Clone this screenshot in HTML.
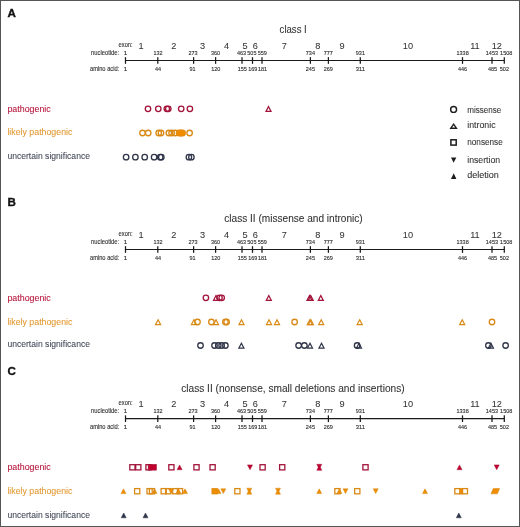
<!DOCTYPE html>
<html><head><meta charset="utf-8"><title>variants</title>
<style>
html,body{margin:0;padding:0;background:#fff;width:520px;height:527px;overflow:hidden;}
svg{display:block;font-family:"Liberation Sans", sans-serif;will-change:transform;}
</style></head><body>
<svg width="520" height="527" viewBox="0 0 520 527">
<rect x="0" y="0" width="520" height="527" fill="#ffffff"/>
<g font-family="'Liberation Sans', sans-serif">
<g>
<text x="7.6" y="16.9" font-size="11.6" fill="#111" text-anchor="start" font-weight="bold" stroke="#111" stroke-width="0.35">A</text>
<text x="279.6" y="32.5" font-size="10.3" fill="#333333" text-anchor="start" stroke="#333333" stroke-width="0.08" textLength="27.2" lengthAdjust="spacingAndGlyphs">class I</text>
<text x="132.6" y="46.9" font-size="6.5" fill="#2e2e2e" text-anchor="end" stroke="#2e2e2e" stroke-width="0.1" textLength="14.0" lengthAdjust="spacingAndGlyphs">exon:</text>
<text x="141.0" y="48.7" font-size="9.2" fill="#333333" text-anchor="middle" stroke="#333333" stroke-width="0.05">1</text>
<text x="173.8" y="48.7" font-size="9.2" fill="#333333" text-anchor="middle" stroke="#333333" stroke-width="0.05">2</text>
<text x="202.6" y="48.7" font-size="9.2" fill="#333333" text-anchor="middle" stroke="#333333" stroke-width="0.05">3</text>
<text x="226.6" y="48.7" font-size="9.2" fill="#333333" text-anchor="middle" stroke="#333333" stroke-width="0.05">4</text>
<text x="245.0" y="48.7" font-size="9.2" fill="#333333" text-anchor="middle" stroke="#333333" stroke-width="0.05">5</text>
<text x="255.4" y="48.7" font-size="9.2" fill="#333333" text-anchor="middle" stroke="#333333" stroke-width="0.05">6</text>
<text x="284.3" y="48.7" font-size="9.2" fill="#333333" text-anchor="middle" stroke="#333333" stroke-width="0.05">7</text>
<text x="317.7" y="48.7" font-size="9.2" fill="#333333" text-anchor="middle" stroke="#333333" stroke-width="0.05">8</text>
<text x="342.0" y="48.7" font-size="9.2" fill="#333333" text-anchor="middle" stroke="#333333" stroke-width="0.05">9</text>
<text x="407.9" y="48.7" font-size="9.2" fill="#333333" text-anchor="middle" stroke="#333333" stroke-width="0.05">10</text>
<text x="474.9" y="48.7" font-size="9.2" fill="#333333" text-anchor="middle" stroke="#333333" stroke-width="0.05">11</text>
<text x="496.8" y="48.7" font-size="9.2" fill="#333333" text-anchor="middle" stroke="#333333" stroke-width="0.05">12</text>
<text x="119.2" y="55.1" font-size="6.4" fill="#2e2e2e" text-anchor="end" stroke="#2e2e2e" stroke-width="0.1" textLength="28.2" lengthAdjust="spacingAndGlyphs">nucleotide:</text>
<text x="119.2" y="70.6" font-size="6.4" fill="#2e2e2e" text-anchor="end" stroke="#2e2e2e" stroke-width="0.1" textLength="29.2" lengthAdjust="spacingAndGlyphs">amino acid:</text>
<text x="125.5" y="55.2" font-size="6.1" fill="#2e2e2e" text-anchor="middle" stroke="#2e2e2e" stroke-width="0.12">1</text>
<text x="125.5" y="70.6" font-size="6.1" fill="#2e2e2e" text-anchor="middle" stroke="#2e2e2e" stroke-width="0.12">1</text>
<text x="158.0" y="55.2" font-size="6.1" fill="#2e2e2e" text-anchor="middle" stroke="#2e2e2e" stroke-width="0.12" textLength="9.15" lengthAdjust="spacingAndGlyphs">132</text>
<text x="158.0" y="70.6" font-size="6.1" fill="#2e2e2e" text-anchor="middle" stroke="#2e2e2e" stroke-width="0.12" textLength="6.1" lengthAdjust="spacingAndGlyphs">44</text>
<text x="193.0" y="55.2" font-size="6.1" fill="#2e2e2e" text-anchor="middle" stroke="#2e2e2e" stroke-width="0.12" textLength="9.15" lengthAdjust="spacingAndGlyphs">273</text>
<text x="192.6" y="70.6" font-size="6.1" fill="#2e2e2e" text-anchor="middle" stroke="#2e2e2e" stroke-width="0.12" textLength="6.1" lengthAdjust="spacingAndGlyphs">91</text>
<text x="215.6" y="55.2" font-size="6.1" fill="#2e2e2e" text-anchor="middle" stroke="#2e2e2e" stroke-width="0.12" textLength="9.15" lengthAdjust="spacingAndGlyphs">360</text>
<text x="215.7" y="70.6" font-size="6.1" fill="#2e2e2e" text-anchor="middle" stroke="#2e2e2e" stroke-width="0.12" textLength="9.15" lengthAdjust="spacingAndGlyphs">120</text>
<text x="241.5" y="55.2" font-size="6.1" fill="#2e2e2e" text-anchor="middle" stroke="#2e2e2e" stroke-width="0.12" textLength="9.15" lengthAdjust="spacingAndGlyphs">463</text>
<text x="242.3" y="70.6" font-size="6.1" fill="#2e2e2e" text-anchor="middle" stroke="#2e2e2e" stroke-width="0.12" textLength="9.15" lengthAdjust="spacingAndGlyphs">155</text>
<text x="251.9" y="55.2" font-size="6.1" fill="#2e2e2e" text-anchor="middle" stroke="#2e2e2e" stroke-width="0.12" textLength="9.15" lengthAdjust="spacingAndGlyphs">505</text>
<text x="252.8" y="70.6" font-size="6.1" fill="#2e2e2e" text-anchor="middle" stroke="#2e2e2e" stroke-width="0.12" textLength="9.15" lengthAdjust="spacingAndGlyphs">169</text>
<text x="262.2" y="55.2" font-size="6.1" fill="#2e2e2e" text-anchor="middle" stroke="#2e2e2e" stroke-width="0.12" textLength="9.15" lengthAdjust="spacingAndGlyphs">559</text>
<text x="262.5" y="70.6" font-size="6.1" fill="#2e2e2e" text-anchor="middle" stroke="#2e2e2e" stroke-width="0.12" textLength="9.15" lengthAdjust="spacingAndGlyphs">181</text>
<text x="310.4" y="55.2" font-size="6.1" fill="#2e2e2e" text-anchor="middle" stroke="#2e2e2e" stroke-width="0.12" textLength="9.15" lengthAdjust="spacingAndGlyphs">734</text>
<text x="310.4" y="70.6" font-size="6.1" fill="#2e2e2e" text-anchor="middle" stroke="#2e2e2e" stroke-width="0.12" textLength="9.15" lengthAdjust="spacingAndGlyphs">245</text>
<text x="328.3" y="55.2" font-size="6.1" fill="#2e2e2e" text-anchor="middle" stroke="#2e2e2e" stroke-width="0.12" textLength="9.15" lengthAdjust="spacingAndGlyphs">777</text>
<text x="328.3" y="70.6" font-size="6.1" fill="#2e2e2e" text-anchor="middle" stroke="#2e2e2e" stroke-width="0.12" textLength="9.15" lengthAdjust="spacingAndGlyphs">269</text>
<text x="360.4" y="55.2" font-size="6.1" fill="#2e2e2e" text-anchor="middle" stroke="#2e2e2e" stroke-width="0.12" textLength="9.15" lengthAdjust="spacingAndGlyphs">931</text>
<text x="360.4" y="70.6" font-size="6.1" fill="#2e2e2e" text-anchor="middle" stroke="#2e2e2e" stroke-width="0.12" textLength="9.15" lengthAdjust="spacingAndGlyphs">311</text>
<text x="462.6" y="55.2" font-size="6.1" fill="#2e2e2e" text-anchor="middle" stroke="#2e2e2e" stroke-width="0.12" textLength="12.2" lengthAdjust="spacingAndGlyphs">1338</text>
<text x="462.5" y="70.6" font-size="6.1" fill="#2e2e2e" text-anchor="middle" stroke="#2e2e2e" stroke-width="0.12" textLength="9.15" lengthAdjust="spacingAndGlyphs">446</text>
<text x="491.9" y="55.2" font-size="6.1" fill="#2e2e2e" text-anchor="middle" stroke="#2e2e2e" stroke-width="0.12" textLength="12.2" lengthAdjust="spacingAndGlyphs">1453</text>
<text x="492.5" y="70.6" font-size="6.1" fill="#2e2e2e" text-anchor="middle" stroke="#2e2e2e" stroke-width="0.12" textLength="9.15" lengthAdjust="spacingAndGlyphs">485</text>
<text x="506.2" y="55.2" font-size="6.1" fill="#2e2e2e" text-anchor="middle" stroke="#2e2e2e" stroke-width="0.12" textLength="12.2" lengthAdjust="spacingAndGlyphs">1508</text>
<text x="504.4" y="70.6" font-size="6.1" fill="#2e2e2e" text-anchor="middle" stroke="#2e2e2e" stroke-width="0.12" textLength="9.15" lengthAdjust="spacingAndGlyphs">502</text>
<line x1="125.5" y1="60.45" x2="504.3" y2="60.45" stroke="#1a1a1a" stroke-width="1.1"/>
<line x1="125.5" y1="57.150000000000006" x2="125.5" y2="63.85" stroke="#1a1a1a" stroke-width="1.25"/>
<line x1="157.8" y1="57.150000000000006" x2="157.8" y2="63.85" stroke="#1a1a1a" stroke-width="1.25"/>
<line x1="193.6" y1="57.150000000000006" x2="193.6" y2="63.85" stroke="#1a1a1a" stroke-width="1.25"/>
<line x1="215.6" y1="57.150000000000006" x2="215.6" y2="63.85" stroke="#1a1a1a" stroke-width="1.25"/>
<line x1="242.0" y1="57.150000000000006" x2="242.0" y2="63.85" stroke="#1a1a1a" stroke-width="1.25"/>
<line x1="252.5" y1="57.150000000000006" x2="252.5" y2="63.85" stroke="#1a1a1a" stroke-width="1.25"/>
<line x1="262.0" y1="57.150000000000006" x2="262.0" y2="63.85" stroke="#1a1a1a" stroke-width="1.25"/>
<line x1="310.4" y1="57.150000000000006" x2="310.4" y2="63.85" stroke="#1a1a1a" stroke-width="1.25"/>
<line x1="328.4" y1="57.150000000000006" x2="328.4" y2="63.85" stroke="#1a1a1a" stroke-width="1.25"/>
<line x1="360.3" y1="57.150000000000006" x2="360.3" y2="63.85" stroke="#1a1a1a" stroke-width="1.25"/>
<line x1="462.5" y1="57.150000000000006" x2="462.5" y2="63.85" stroke="#1a1a1a" stroke-width="1.25"/>
<line x1="492.0" y1="57.150000000000006" x2="492.0" y2="63.85" stroke="#1a1a1a" stroke-width="1.25"/>
<line x1="504.3" y1="57.150000000000006" x2="504.3" y2="63.85" stroke="#1a1a1a" stroke-width="1.25"/>
<text x="7.4" y="111.8" font-size="8.6" fill="#b8173c" text-anchor="start" stroke="#b8173c" stroke-width="0.08" textLength="43.4" lengthAdjust="spacingAndGlyphs">pathogenic</text>
<text x="7.4" y="134.9" font-size="8.6" fill="#e39a34" text-anchor="start" stroke="#e39a34" stroke-width="0.08" textLength="65.0" lengthAdjust="spacingAndGlyphs">likely pathogenic</text>
<text x="7.4" y="158.8" font-size="8.6" fill="#434959" text-anchor="start" stroke="#434959" stroke-width="0.08" textLength="82.6" lengthAdjust="spacingAndGlyphs">uncertain significance</text>
<circle cx="148.0" cy="108.8" r="2.75" fill="none" stroke="#a3143a" stroke-width="1.3"/>
<circle cx="158.3" cy="108.8" r="2.75" fill="none" stroke="#a3143a" stroke-width="1.3"/>
<circle cx="166.8" cy="108.8" r="2.75" fill="none" stroke="#a3143a" stroke-width="1.3"/>
<circle cx="168.3" cy="108.8" r="2.75" fill="none" stroke="#a3143a" stroke-width="1.3"/>
<circle cx="181.2" cy="108.8" r="2.75" fill="none" stroke="#a3143a" stroke-width="1.3"/>
<circle cx="189.9" cy="108.8" r="2.75" fill="none" stroke="#a3143a" stroke-width="1.3"/>
<polygon points="268.50,106.55 271.00,111.35 266.00,111.35" fill="none" stroke="#a3143a" stroke-width="1.25" stroke-linejoin="miter"/>
<circle cx="142.5" cy="133.0" r="2.75" fill="none" stroke="#d98a16" stroke-width="1.3"/>
<circle cx="148.2" cy="133.0" r="2.75" fill="none" stroke="#d98a16" stroke-width="1.3"/>
<circle cx="158.7" cy="133.0" r="2.75" fill="none" stroke="#d98a16" stroke-width="1.3"/>
<circle cx="161.0" cy="133.0" r="2.75" fill="none" stroke="#d98a16" stroke-width="1.3"/>
<circle cx="168.8" cy="133.0" r="2.75" fill="none" stroke="#d98a16" stroke-width="1.3"/>
<circle cx="171.6" cy="133.0" r="2.75" fill="none" stroke="#d98a16" stroke-width="1.3"/>
<circle cx="175.2" cy="133.0" r="2.75" fill="none" stroke="#d98a16" stroke-width="1.3"/>
<circle cx="189.6" cy="133.0" r="2.75" fill="none" stroke="#d98a16" stroke-width="1.3"/>
<rect x="176.0" y="129.7" width="9.8" height="6.6" rx="3.3" fill="#ef8c00" stroke="#d98a16" stroke-width="0.6"/>
<circle cx="126.1" cy="157.2" r="2.75" fill="none" stroke="#2f3548" stroke-width="1.3"/>
<circle cx="135.4" cy="157.2" r="2.75" fill="none" stroke="#2f3548" stroke-width="1.3"/>
<circle cx="144.7" cy="157.2" r="2.75" fill="none" stroke="#2f3548" stroke-width="1.3"/>
<circle cx="154.1" cy="157.2" r="2.75" fill="none" stroke="#2f3548" stroke-width="1.3"/>
<circle cx="160.2" cy="157.2" r="2.75" fill="none" stroke="#2f3548" stroke-width="1.3"/>
<circle cx="161.3" cy="157.2" r="2.75" fill="none" stroke="#2f3548" stroke-width="1.3"/>
<circle cx="188.9" cy="157.2" r="2.75" fill="none" stroke="#2f3548" stroke-width="1.3"/>
<circle cx="191.4" cy="157.2" r="2.75" fill="none" stroke="#2f3548" stroke-width="1.3"/>
<circle cx="453.6" cy="109.4" r="2.95" fill="none" stroke="#1c1c1c" stroke-width="1.45"/>
<polygon points="453.6,124.2 456.4,128.2 450.8,128.2" fill="none" stroke="#1c1c1c" stroke-width="1.4"/>
<rect x="450.9" y="139.8" width="5.3" height="5.3" fill="none" stroke="#1c1c1c" stroke-width="1.5"/>
<polygon points="451.0,157.4 456.3,157.4 453.65,162.8" fill="#1c1c1c"/>
<polygon points="453.7,173.2 456.4,178.9 451.0,178.9" fill="#1c1c1c"/>
<text x="467.2" y="112.5" font-size="8.6" fill="#333333" text-anchor="start" stroke="#333333" stroke-width="0.08" textLength="34.0" lengthAdjust="spacingAndGlyphs">missense</text>
<text x="467.2" y="127.7" font-size="8.6" fill="#333333" text-anchor="start" stroke="#333333" stroke-width="0.08" textLength="28.4" lengthAdjust="spacingAndGlyphs">intronic</text>
<text x="467.2" y="144.5" font-size="8.6" fill="#333333" text-anchor="start" stroke="#333333" stroke-width="0.08" textLength="35.6" lengthAdjust="spacingAndGlyphs">nonsense</text>
<text x="467.2" y="162.5" font-size="8.6" fill="#333333" text-anchor="start" stroke="#333333" stroke-width="0.08" textLength="33.0" lengthAdjust="spacingAndGlyphs">insertion</text>
<text x="467.2" y="177.6" font-size="8.6" fill="#333333" text-anchor="start" stroke="#333333" stroke-width="0.08" textLength="31.6" lengthAdjust="spacingAndGlyphs">deletion</text>
</g>
<g transform="translate(0,189)">
<text x="7.6" y="16.9" font-size="11.6" fill="#111" text-anchor="start" font-weight="bold" stroke="#111" stroke-width="0.35">B</text>
<text x="224.3" y="33.2" font-size="10.3" fill="#333333" text-anchor="start" stroke="#333333" stroke-width="0.08" textLength="138.4" lengthAdjust="spacingAndGlyphs">class II (missense and intronic)</text>
<text x="132.6" y="46.9" font-size="6.5" fill="#2e2e2e" text-anchor="end" stroke="#2e2e2e" stroke-width="0.1" textLength="14.0" lengthAdjust="spacingAndGlyphs">exon:</text>
<text x="141.0" y="48.7" font-size="9.2" fill="#333333" text-anchor="middle" stroke="#333333" stroke-width="0.05">1</text>
<text x="173.8" y="48.7" font-size="9.2" fill="#333333" text-anchor="middle" stroke="#333333" stroke-width="0.05">2</text>
<text x="202.6" y="48.7" font-size="9.2" fill="#333333" text-anchor="middle" stroke="#333333" stroke-width="0.05">3</text>
<text x="226.6" y="48.7" font-size="9.2" fill="#333333" text-anchor="middle" stroke="#333333" stroke-width="0.05">4</text>
<text x="245.0" y="48.7" font-size="9.2" fill="#333333" text-anchor="middle" stroke="#333333" stroke-width="0.05">5</text>
<text x="255.4" y="48.7" font-size="9.2" fill="#333333" text-anchor="middle" stroke="#333333" stroke-width="0.05">6</text>
<text x="284.3" y="48.7" font-size="9.2" fill="#333333" text-anchor="middle" stroke="#333333" stroke-width="0.05">7</text>
<text x="317.7" y="48.7" font-size="9.2" fill="#333333" text-anchor="middle" stroke="#333333" stroke-width="0.05">8</text>
<text x="342.0" y="48.7" font-size="9.2" fill="#333333" text-anchor="middle" stroke="#333333" stroke-width="0.05">9</text>
<text x="407.9" y="48.7" font-size="9.2" fill="#333333" text-anchor="middle" stroke="#333333" stroke-width="0.05">10</text>
<text x="474.9" y="48.7" font-size="9.2" fill="#333333" text-anchor="middle" stroke="#333333" stroke-width="0.05">11</text>
<text x="496.8" y="48.7" font-size="9.2" fill="#333333" text-anchor="middle" stroke="#333333" stroke-width="0.05">12</text>
<text x="119.2" y="55.1" font-size="6.4" fill="#2e2e2e" text-anchor="end" stroke="#2e2e2e" stroke-width="0.1" textLength="28.2" lengthAdjust="spacingAndGlyphs">nucleotide:</text>
<text x="119.2" y="70.6" font-size="6.4" fill="#2e2e2e" text-anchor="end" stroke="#2e2e2e" stroke-width="0.1" textLength="29.2" lengthAdjust="spacingAndGlyphs">amino acid:</text>
<text x="125.5" y="55.2" font-size="6.1" fill="#2e2e2e" text-anchor="middle" stroke="#2e2e2e" stroke-width="0.12">1</text>
<text x="125.5" y="70.6" font-size="6.1" fill="#2e2e2e" text-anchor="middle" stroke="#2e2e2e" stroke-width="0.12">1</text>
<text x="158.0" y="55.2" font-size="6.1" fill="#2e2e2e" text-anchor="middle" stroke="#2e2e2e" stroke-width="0.12" textLength="9.15" lengthAdjust="spacingAndGlyphs">132</text>
<text x="158.0" y="70.6" font-size="6.1" fill="#2e2e2e" text-anchor="middle" stroke="#2e2e2e" stroke-width="0.12" textLength="6.1" lengthAdjust="spacingAndGlyphs">44</text>
<text x="193.0" y="55.2" font-size="6.1" fill="#2e2e2e" text-anchor="middle" stroke="#2e2e2e" stroke-width="0.12" textLength="9.15" lengthAdjust="spacingAndGlyphs">273</text>
<text x="192.6" y="70.6" font-size="6.1" fill="#2e2e2e" text-anchor="middle" stroke="#2e2e2e" stroke-width="0.12" textLength="6.1" lengthAdjust="spacingAndGlyphs">91</text>
<text x="215.6" y="55.2" font-size="6.1" fill="#2e2e2e" text-anchor="middle" stroke="#2e2e2e" stroke-width="0.12" textLength="9.15" lengthAdjust="spacingAndGlyphs">360</text>
<text x="215.7" y="70.6" font-size="6.1" fill="#2e2e2e" text-anchor="middle" stroke="#2e2e2e" stroke-width="0.12" textLength="9.15" lengthAdjust="spacingAndGlyphs">120</text>
<text x="241.5" y="55.2" font-size="6.1" fill="#2e2e2e" text-anchor="middle" stroke="#2e2e2e" stroke-width="0.12" textLength="9.15" lengthAdjust="spacingAndGlyphs">463</text>
<text x="242.3" y="70.6" font-size="6.1" fill="#2e2e2e" text-anchor="middle" stroke="#2e2e2e" stroke-width="0.12" textLength="9.15" lengthAdjust="spacingAndGlyphs">155</text>
<text x="251.9" y="55.2" font-size="6.1" fill="#2e2e2e" text-anchor="middle" stroke="#2e2e2e" stroke-width="0.12" textLength="9.15" lengthAdjust="spacingAndGlyphs">505</text>
<text x="252.8" y="70.6" font-size="6.1" fill="#2e2e2e" text-anchor="middle" stroke="#2e2e2e" stroke-width="0.12" textLength="9.15" lengthAdjust="spacingAndGlyphs">169</text>
<text x="262.2" y="55.2" font-size="6.1" fill="#2e2e2e" text-anchor="middle" stroke="#2e2e2e" stroke-width="0.12" textLength="9.15" lengthAdjust="spacingAndGlyphs">559</text>
<text x="262.5" y="70.6" font-size="6.1" fill="#2e2e2e" text-anchor="middle" stroke="#2e2e2e" stroke-width="0.12" textLength="9.15" lengthAdjust="spacingAndGlyphs">181</text>
<text x="310.4" y="55.2" font-size="6.1" fill="#2e2e2e" text-anchor="middle" stroke="#2e2e2e" stroke-width="0.12" textLength="9.15" lengthAdjust="spacingAndGlyphs">734</text>
<text x="310.4" y="70.6" font-size="6.1" fill="#2e2e2e" text-anchor="middle" stroke="#2e2e2e" stroke-width="0.12" textLength="9.15" lengthAdjust="spacingAndGlyphs">245</text>
<text x="328.3" y="55.2" font-size="6.1" fill="#2e2e2e" text-anchor="middle" stroke="#2e2e2e" stroke-width="0.12" textLength="9.15" lengthAdjust="spacingAndGlyphs">777</text>
<text x="328.3" y="70.6" font-size="6.1" fill="#2e2e2e" text-anchor="middle" stroke="#2e2e2e" stroke-width="0.12" textLength="9.15" lengthAdjust="spacingAndGlyphs">269</text>
<text x="360.4" y="55.2" font-size="6.1" fill="#2e2e2e" text-anchor="middle" stroke="#2e2e2e" stroke-width="0.12" textLength="9.15" lengthAdjust="spacingAndGlyphs">931</text>
<text x="360.4" y="70.6" font-size="6.1" fill="#2e2e2e" text-anchor="middle" stroke="#2e2e2e" stroke-width="0.12" textLength="9.15" lengthAdjust="spacingAndGlyphs">311</text>
<text x="462.6" y="55.2" font-size="6.1" fill="#2e2e2e" text-anchor="middle" stroke="#2e2e2e" stroke-width="0.12" textLength="12.2" lengthAdjust="spacingAndGlyphs">1338</text>
<text x="462.5" y="70.6" font-size="6.1" fill="#2e2e2e" text-anchor="middle" stroke="#2e2e2e" stroke-width="0.12" textLength="9.15" lengthAdjust="spacingAndGlyphs">446</text>
<text x="491.9" y="55.2" font-size="6.1" fill="#2e2e2e" text-anchor="middle" stroke="#2e2e2e" stroke-width="0.12" textLength="12.2" lengthAdjust="spacingAndGlyphs">1453</text>
<text x="492.5" y="70.6" font-size="6.1" fill="#2e2e2e" text-anchor="middle" stroke="#2e2e2e" stroke-width="0.12" textLength="9.15" lengthAdjust="spacingAndGlyphs">485</text>
<text x="506.2" y="55.2" font-size="6.1" fill="#2e2e2e" text-anchor="middle" stroke="#2e2e2e" stroke-width="0.12" textLength="12.2" lengthAdjust="spacingAndGlyphs">1508</text>
<text x="504.4" y="70.6" font-size="6.1" fill="#2e2e2e" text-anchor="middle" stroke="#2e2e2e" stroke-width="0.12" textLength="9.15" lengthAdjust="spacingAndGlyphs">502</text>
<line x1="125.5" y1="60.45" x2="504.3" y2="60.45" stroke="#1a1a1a" stroke-width="1.1"/>
<line x1="125.5" y1="57.150000000000006" x2="125.5" y2="63.85" stroke="#1a1a1a" stroke-width="1.25"/>
<line x1="157.8" y1="57.150000000000006" x2="157.8" y2="63.85" stroke="#1a1a1a" stroke-width="1.25"/>
<line x1="193.6" y1="57.150000000000006" x2="193.6" y2="63.85" stroke="#1a1a1a" stroke-width="1.25"/>
<line x1="215.6" y1="57.150000000000006" x2="215.6" y2="63.85" stroke="#1a1a1a" stroke-width="1.25"/>
<line x1="242.0" y1="57.150000000000006" x2="242.0" y2="63.85" stroke="#1a1a1a" stroke-width="1.25"/>
<line x1="252.5" y1="57.150000000000006" x2="252.5" y2="63.85" stroke="#1a1a1a" stroke-width="1.25"/>
<line x1="262.0" y1="57.150000000000006" x2="262.0" y2="63.85" stroke="#1a1a1a" stroke-width="1.25"/>
<line x1="310.4" y1="57.150000000000006" x2="310.4" y2="63.85" stroke="#1a1a1a" stroke-width="1.25"/>
<line x1="328.4" y1="57.150000000000006" x2="328.4" y2="63.85" stroke="#1a1a1a" stroke-width="1.25"/>
<line x1="360.3" y1="57.150000000000006" x2="360.3" y2="63.85" stroke="#1a1a1a" stroke-width="1.25"/>
<line x1="462.5" y1="57.150000000000006" x2="462.5" y2="63.85" stroke="#1a1a1a" stroke-width="1.25"/>
<line x1="492.0" y1="57.150000000000006" x2="492.0" y2="63.85" stroke="#1a1a1a" stroke-width="1.25"/>
<line x1="504.3" y1="57.150000000000006" x2="504.3" y2="63.85" stroke="#1a1a1a" stroke-width="1.25"/>
<text x="7.4" y="111.8" font-size="8.6" fill="#b8173c" text-anchor="start" stroke="#b8173c" stroke-width="0.08" textLength="43.4" lengthAdjust="spacingAndGlyphs">pathogenic</text>
<text x="7.4" y="136.3" font-size="8.6" fill="#e39a34" text-anchor="start" stroke="#e39a34" stroke-width="0.08" textLength="65.0" lengthAdjust="spacingAndGlyphs">likely pathogenic</text>
<text x="7.4" y="158.4" font-size="8.6" fill="#434959" text-anchor="start" stroke="#434959" stroke-width="0.08" textLength="82.6" lengthAdjust="spacingAndGlyphs">uncertain significance</text>
<circle cx="205.9" cy="108.8" r="2.75" fill="none" stroke="#a3143a" stroke-width="1.3"/>
<polygon points="216.00,106.55 218.50,111.35 213.50,111.35" fill="none" stroke="#a3143a" stroke-width="1.25" stroke-linejoin="miter"/>
<circle cx="219.5" cy="108.8" r="2.75" fill="none" stroke="#a3143a" stroke-width="1.3"/>
<circle cx="221.7" cy="108.8" r="2.75" fill="none" stroke="#a3143a" stroke-width="1.3"/>
<polygon points="268.80,106.55 271.30,111.35 266.30,111.35" fill="none" stroke="#a3143a" stroke-width="1.25" stroke-linejoin="miter"/>
<polygon points="309.50,106.55 312.00,111.35 307.00,111.35" fill="none" stroke="#a3143a" stroke-width="1.25" stroke-linejoin="miter"/>
<polygon points="310.70,106.55 313.20,111.35 308.20,111.35" fill="none" stroke="#a3143a" stroke-width="1.25" stroke-linejoin="miter"/>
<polygon points="320.80,106.55 323.30,111.35 318.30,111.35" fill="none" stroke="#a3143a" stroke-width="1.25" stroke-linejoin="miter"/>
<polygon points="158.10,130.75 160.60,135.55 155.60,135.55" fill="none" stroke="#d98a16" stroke-width="1.25" stroke-linejoin="miter"/>
<polygon points="193.90,130.75 196.40,135.55 191.40,135.55" fill="none" stroke="#d98a16" stroke-width="1.25" stroke-linejoin="miter"/>
<circle cx="197.5" cy="133.0" r="2.75" fill="none" stroke="#d98a16" stroke-width="1.3"/>
<circle cx="211.4" cy="133.0" r="2.75" fill="none" stroke="#d98a16" stroke-width="1.3"/>
<polygon points="216.00,130.75 218.50,135.55 213.50,135.55" fill="none" stroke="#d98a16" stroke-width="1.25" stroke-linejoin="miter"/>
<circle cx="225.4" cy="133.0" r="2.75" fill="none" stroke="#d98a16" stroke-width="1.3"/>
<circle cx="226.6" cy="133.0" r="2.75" fill="none" stroke="#d98a16" stroke-width="1.3"/>
<polygon points="241.50,130.75 244.00,135.55 239.00,135.55" fill="none" stroke="#d98a16" stroke-width="1.25" stroke-linejoin="miter"/>
<polygon points="269.00,130.75 271.50,135.55 266.50,135.55" fill="none" stroke="#d98a16" stroke-width="1.25" stroke-linejoin="miter"/>
<polygon points="277.00,130.75 279.50,135.55 274.50,135.55" fill="none" stroke="#d98a16" stroke-width="1.25" stroke-linejoin="miter"/>
<circle cx="294.6" cy="133.0" r="2.75" fill="none" stroke="#d98a16" stroke-width="1.3"/>
<polygon points="309.80,130.75 312.30,135.55 307.30,135.55" fill="none" stroke="#d98a16" stroke-width="1.25" stroke-linejoin="miter"/>
<polygon points="310.90,130.75 313.40,135.55 308.40,135.55" fill="none" stroke="#d98a16" stroke-width="1.25" stroke-linejoin="miter"/>
<polygon points="321.20,130.75 323.70,135.55 318.70,135.55" fill="none" stroke="#d98a16" stroke-width="1.25" stroke-linejoin="miter"/>
<polygon points="359.70,130.75 362.20,135.55 357.20,135.55" fill="none" stroke="#d98a16" stroke-width="1.25" stroke-linejoin="miter"/>
<polygon points="462.20,130.75 464.70,135.55 459.70,135.55" fill="none" stroke="#d98a16" stroke-width="1.25" stroke-linejoin="miter"/>
<circle cx="492.0" cy="133.0" r="2.75" fill="none" stroke="#d98a16" stroke-width="1.3"/>
<circle cx="200.5" cy="156.5" r="2.75" fill="none" stroke="#2f3548" stroke-width="1.3"/>
<circle cx="214.5" cy="156.5" r="2.75" fill="none" stroke="#2f3548" stroke-width="1.3"/>
<circle cx="218.3" cy="156.5" r="2.75" fill="none" stroke="#2f3548" stroke-width="1.3"/>
<circle cx="221.6" cy="156.5" r="2.75" fill="none" stroke="#2f3548" stroke-width="1.3"/>
<circle cx="225.4" cy="156.5" r="2.75" fill="none" stroke="#2f3548" stroke-width="1.3"/>
<polygon points="241.40,154.25 243.90,159.05 238.90,159.05" fill="none" stroke="#2f3548" stroke-width="1.25" stroke-linejoin="miter"/>
<circle cx="298.6" cy="156.5" r="2.75" fill="none" stroke="#2f3548" stroke-width="1.3"/>
<circle cx="304.4" cy="156.5" r="2.75" fill="none" stroke="#2f3548" stroke-width="1.3"/>
<polygon points="310.00,154.25 312.50,159.05 307.50,159.05" fill="none" stroke="#2f3548" stroke-width="1.25" stroke-linejoin="miter"/>
<polygon points="321.50,154.25 324.00,159.05 319.00,159.05" fill="none" stroke="#2f3548" stroke-width="1.25" stroke-linejoin="miter"/>
<circle cx="357.1" cy="156.5" r="2.75" fill="none" stroke="#2f3548" stroke-width="1.3"/>
<polygon points="359.00,154.25 361.50,159.05 356.50,159.05" fill="none" stroke="#2f3548" stroke-width="1.25" stroke-linejoin="miter"/>
<circle cx="488.4" cy="156.5" r="2.75" fill="none" stroke="#2f3548" stroke-width="1.3"/>
<polygon points="490.90,154.25 493.40,159.05 488.40,159.05" fill="none" stroke="#2f3548" stroke-width="1.25" stroke-linejoin="miter"/>
<circle cx="505.6" cy="156.5" r="2.75" fill="none" stroke="#2f3548" stroke-width="1.3"/>
</g>
<g transform="translate(0,358.2)">
<text x="7.6" y="16.9" font-size="11.6" fill="#111" text-anchor="start" font-weight="bold" stroke="#111" stroke-width="0.35">C</text>
<text x="181.2" y="33.7" font-size="10.3" fill="#333333" text-anchor="start" stroke="#333333" stroke-width="0.08" textLength="223.4" lengthAdjust="spacingAndGlyphs">class II (nonsense, small deletions and insertions)</text>
<text x="132.6" y="46.9" font-size="6.5" fill="#2e2e2e" text-anchor="end" stroke="#2e2e2e" stroke-width="0.1" textLength="14.0" lengthAdjust="spacingAndGlyphs">exon:</text>
<text x="141.0" y="48.7" font-size="9.2" fill="#333333" text-anchor="middle" stroke="#333333" stroke-width="0.05">1</text>
<text x="173.8" y="48.7" font-size="9.2" fill="#333333" text-anchor="middle" stroke="#333333" stroke-width="0.05">2</text>
<text x="202.6" y="48.7" font-size="9.2" fill="#333333" text-anchor="middle" stroke="#333333" stroke-width="0.05">3</text>
<text x="226.6" y="48.7" font-size="9.2" fill="#333333" text-anchor="middle" stroke="#333333" stroke-width="0.05">4</text>
<text x="245.0" y="48.7" font-size="9.2" fill="#333333" text-anchor="middle" stroke="#333333" stroke-width="0.05">5</text>
<text x="255.4" y="48.7" font-size="9.2" fill="#333333" text-anchor="middle" stroke="#333333" stroke-width="0.05">6</text>
<text x="284.3" y="48.7" font-size="9.2" fill="#333333" text-anchor="middle" stroke="#333333" stroke-width="0.05">7</text>
<text x="317.7" y="48.7" font-size="9.2" fill="#333333" text-anchor="middle" stroke="#333333" stroke-width="0.05">8</text>
<text x="342.0" y="48.7" font-size="9.2" fill="#333333" text-anchor="middle" stroke="#333333" stroke-width="0.05">9</text>
<text x="407.9" y="48.7" font-size="9.2" fill="#333333" text-anchor="middle" stroke="#333333" stroke-width="0.05">10</text>
<text x="474.9" y="48.7" font-size="9.2" fill="#333333" text-anchor="middle" stroke="#333333" stroke-width="0.05">11</text>
<text x="496.8" y="48.7" font-size="9.2" fill="#333333" text-anchor="middle" stroke="#333333" stroke-width="0.05">12</text>
<text x="119.2" y="55.1" font-size="6.4" fill="#2e2e2e" text-anchor="end" stroke="#2e2e2e" stroke-width="0.1" textLength="28.2" lengthAdjust="spacingAndGlyphs">nucleotide:</text>
<text x="119.2" y="70.6" font-size="6.4" fill="#2e2e2e" text-anchor="end" stroke="#2e2e2e" stroke-width="0.1" textLength="29.2" lengthAdjust="spacingAndGlyphs">amino acid:</text>
<text x="125.5" y="55.2" font-size="6.1" fill="#2e2e2e" text-anchor="middle" stroke="#2e2e2e" stroke-width="0.12">1</text>
<text x="125.5" y="70.6" font-size="6.1" fill="#2e2e2e" text-anchor="middle" stroke="#2e2e2e" stroke-width="0.12">1</text>
<text x="158.0" y="55.2" font-size="6.1" fill="#2e2e2e" text-anchor="middle" stroke="#2e2e2e" stroke-width="0.12" textLength="9.15" lengthAdjust="spacingAndGlyphs">132</text>
<text x="158.0" y="70.6" font-size="6.1" fill="#2e2e2e" text-anchor="middle" stroke="#2e2e2e" stroke-width="0.12" textLength="6.1" lengthAdjust="spacingAndGlyphs">44</text>
<text x="193.0" y="55.2" font-size="6.1" fill="#2e2e2e" text-anchor="middle" stroke="#2e2e2e" stroke-width="0.12" textLength="9.15" lengthAdjust="spacingAndGlyphs">273</text>
<text x="192.6" y="70.6" font-size="6.1" fill="#2e2e2e" text-anchor="middle" stroke="#2e2e2e" stroke-width="0.12" textLength="6.1" lengthAdjust="spacingAndGlyphs">91</text>
<text x="215.6" y="55.2" font-size="6.1" fill="#2e2e2e" text-anchor="middle" stroke="#2e2e2e" stroke-width="0.12" textLength="9.15" lengthAdjust="spacingAndGlyphs">360</text>
<text x="215.7" y="70.6" font-size="6.1" fill="#2e2e2e" text-anchor="middle" stroke="#2e2e2e" stroke-width="0.12" textLength="9.15" lengthAdjust="spacingAndGlyphs">120</text>
<text x="241.5" y="55.2" font-size="6.1" fill="#2e2e2e" text-anchor="middle" stroke="#2e2e2e" stroke-width="0.12" textLength="9.15" lengthAdjust="spacingAndGlyphs">463</text>
<text x="242.3" y="70.6" font-size="6.1" fill="#2e2e2e" text-anchor="middle" stroke="#2e2e2e" stroke-width="0.12" textLength="9.15" lengthAdjust="spacingAndGlyphs">155</text>
<text x="251.9" y="55.2" font-size="6.1" fill="#2e2e2e" text-anchor="middle" stroke="#2e2e2e" stroke-width="0.12" textLength="9.15" lengthAdjust="spacingAndGlyphs">505</text>
<text x="252.8" y="70.6" font-size="6.1" fill="#2e2e2e" text-anchor="middle" stroke="#2e2e2e" stroke-width="0.12" textLength="9.15" lengthAdjust="spacingAndGlyphs">169</text>
<text x="262.2" y="55.2" font-size="6.1" fill="#2e2e2e" text-anchor="middle" stroke="#2e2e2e" stroke-width="0.12" textLength="9.15" lengthAdjust="spacingAndGlyphs">559</text>
<text x="262.5" y="70.6" font-size="6.1" fill="#2e2e2e" text-anchor="middle" stroke="#2e2e2e" stroke-width="0.12" textLength="9.15" lengthAdjust="spacingAndGlyphs">181</text>
<text x="310.4" y="55.2" font-size="6.1" fill="#2e2e2e" text-anchor="middle" stroke="#2e2e2e" stroke-width="0.12" textLength="9.15" lengthAdjust="spacingAndGlyphs">734</text>
<text x="310.4" y="70.6" font-size="6.1" fill="#2e2e2e" text-anchor="middle" stroke="#2e2e2e" stroke-width="0.12" textLength="9.15" lengthAdjust="spacingAndGlyphs">245</text>
<text x="328.3" y="55.2" font-size="6.1" fill="#2e2e2e" text-anchor="middle" stroke="#2e2e2e" stroke-width="0.12" textLength="9.15" lengthAdjust="spacingAndGlyphs">777</text>
<text x="328.3" y="70.6" font-size="6.1" fill="#2e2e2e" text-anchor="middle" stroke="#2e2e2e" stroke-width="0.12" textLength="9.15" lengthAdjust="spacingAndGlyphs">269</text>
<text x="360.4" y="55.2" font-size="6.1" fill="#2e2e2e" text-anchor="middle" stroke="#2e2e2e" stroke-width="0.12" textLength="9.15" lengthAdjust="spacingAndGlyphs">931</text>
<text x="360.4" y="70.6" font-size="6.1" fill="#2e2e2e" text-anchor="middle" stroke="#2e2e2e" stroke-width="0.12" textLength="9.15" lengthAdjust="spacingAndGlyphs">311</text>
<text x="462.6" y="55.2" font-size="6.1" fill="#2e2e2e" text-anchor="middle" stroke="#2e2e2e" stroke-width="0.12" textLength="12.2" lengthAdjust="spacingAndGlyphs">1338</text>
<text x="462.5" y="70.6" font-size="6.1" fill="#2e2e2e" text-anchor="middle" stroke="#2e2e2e" stroke-width="0.12" textLength="9.15" lengthAdjust="spacingAndGlyphs">446</text>
<text x="491.9" y="55.2" font-size="6.1" fill="#2e2e2e" text-anchor="middle" stroke="#2e2e2e" stroke-width="0.12" textLength="12.2" lengthAdjust="spacingAndGlyphs">1453</text>
<text x="492.5" y="70.6" font-size="6.1" fill="#2e2e2e" text-anchor="middle" stroke="#2e2e2e" stroke-width="0.12" textLength="9.15" lengthAdjust="spacingAndGlyphs">485</text>
<text x="506.2" y="55.2" font-size="6.1" fill="#2e2e2e" text-anchor="middle" stroke="#2e2e2e" stroke-width="0.12" textLength="12.2" lengthAdjust="spacingAndGlyphs">1508</text>
<text x="504.4" y="70.6" font-size="6.1" fill="#2e2e2e" text-anchor="middle" stroke="#2e2e2e" stroke-width="0.12" textLength="9.15" lengthAdjust="spacingAndGlyphs">502</text>
<line x1="125.5" y1="60.45" x2="504.3" y2="60.45" stroke="#1a1a1a" stroke-width="1.1"/>
<line x1="125.5" y1="57.150000000000006" x2="125.5" y2="63.85" stroke="#1a1a1a" stroke-width="1.25"/>
<line x1="157.8" y1="57.150000000000006" x2="157.8" y2="63.85" stroke="#1a1a1a" stroke-width="1.25"/>
<line x1="193.6" y1="57.150000000000006" x2="193.6" y2="63.85" stroke="#1a1a1a" stroke-width="1.25"/>
<line x1="215.6" y1="57.150000000000006" x2="215.6" y2="63.85" stroke="#1a1a1a" stroke-width="1.25"/>
<line x1="242.0" y1="57.150000000000006" x2="242.0" y2="63.85" stroke="#1a1a1a" stroke-width="1.25"/>
<line x1="252.5" y1="57.150000000000006" x2="252.5" y2="63.85" stroke="#1a1a1a" stroke-width="1.25"/>
<line x1="262.0" y1="57.150000000000006" x2="262.0" y2="63.85" stroke="#1a1a1a" stroke-width="1.25"/>
<line x1="310.4" y1="57.150000000000006" x2="310.4" y2="63.85" stroke="#1a1a1a" stroke-width="1.25"/>
<line x1="328.4" y1="57.150000000000006" x2="328.4" y2="63.85" stroke="#1a1a1a" stroke-width="1.25"/>
<line x1="360.3" y1="57.150000000000006" x2="360.3" y2="63.85" stroke="#1a1a1a" stroke-width="1.25"/>
<line x1="462.5" y1="57.150000000000006" x2="462.5" y2="63.85" stroke="#1a1a1a" stroke-width="1.25"/>
<line x1="492.0" y1="57.150000000000006" x2="492.0" y2="63.85" stroke="#1a1a1a" stroke-width="1.25"/>
<line x1="504.3" y1="57.150000000000006" x2="504.3" y2="63.85" stroke="#1a1a1a" stroke-width="1.25"/>
<text x="7.4" y="111.4" font-size="8.6" fill="#b8173c" text-anchor="start" stroke="#b8173c" stroke-width="0.08" textLength="43.4" lengthAdjust="spacingAndGlyphs">pathogenic</text>
<text x="7.4" y="136.2" font-size="8.6" fill="#e39a34" text-anchor="start" stroke="#e39a34" stroke-width="0.08" textLength="65.0" lengthAdjust="spacingAndGlyphs">likely pathogenic</text>
<text x="7.4" y="160.0" font-size="8.6" fill="#434959" text-anchor="start" stroke="#434959" stroke-width="0.08" textLength="82.6" lengthAdjust="spacingAndGlyphs">uncertain significance</text>
<rect x="129.80" y="106.50" width="5.2" height="5.2" fill="none" stroke="#a3143a" stroke-width="1.3"/>
<rect x="135.70" y="106.50" width="5.2" height="5.2" fill="none" stroke="#a3143a" stroke-width="1.3"/>
<rect x="145.90" y="106.50" width="5.2" height="5.2" fill="none" stroke="#a3143a" stroke-width="1.3"/>
<rect x="148.20" y="106.30" width="8.10" height="5.60" fill="#c2002e" stroke="#a3143a" stroke-width="0.7"/>
<rect x="168.80" y="106.50" width="5.2" height="5.2" fill="none" stroke="#a3143a" stroke-width="1.3"/>
<polygon points="179.60,106.70 182.10,111.50 177.10,111.50" fill="#c2002e" stroke="#a3143a" stroke-width="0.5" stroke-linejoin="round"/>
<rect x="193.90" y="106.50" width="5.2" height="5.2" fill="none" stroke="#a3143a" stroke-width="1.3"/>
<rect x="210.00" y="106.50" width="5.2" height="5.2" fill="none" stroke="#a3143a" stroke-width="1.3"/>
<polygon points="247.50,106.70 252.50,106.70 250.00,111.50" fill="#c2002e" stroke="#a3143a" stroke-width="0.5" stroke-linejoin="round"/>
<rect x="260.00" y="106.50" width="5.2" height="5.2" fill="none" stroke="#a3143a" stroke-width="1.3"/>
<rect x="279.60" y="106.50" width="5.2" height="5.2" fill="none" stroke="#a3143a" stroke-width="1.3"/>
<polygon points="316.80,106.10 321.80,106.10 319.30,110.90" fill="#c2002e" stroke="#a3143a" stroke-width="0.5" stroke-linejoin="round"/><polygon points="319.30,107.30 321.80,112.10 316.80,112.10" fill="#c2002e" stroke="#a3143a" stroke-width="0.5" stroke-linejoin="round"/>
<rect x="362.90" y="106.50" width="5.2" height="5.2" fill="none" stroke="#a3143a" stroke-width="1.3"/>
<polygon points="459.50,106.70 462.00,111.50 457.00,111.50" fill="#c2002e" stroke="#a3143a" stroke-width="0.5" stroke-linejoin="round"/>
<polygon points="494.20,106.70 499.20,106.70 496.70,111.50" fill="#c2002e" stroke="#a3143a" stroke-width="0.5" stroke-linejoin="round"/>
<polygon points="123.50,130.60 126.00,135.40 121.00,135.40" fill="#ef8c00" stroke="#d98a16" stroke-width="0.5" stroke-linejoin="round"/>
<rect x="134.60" y="130.40" width="5.2" height="5.2" fill="none" stroke="#d98a16" stroke-width="1.3"/>
<rect x="147.00" y="130.40" width="5.2" height="5.2" fill="none" stroke="#d98a16" stroke-width="1.3"/>
<polygon points="154.50,130.60 157.00,135.40 152.00,135.40" fill="#ef8c00" stroke="#d98a16" stroke-width="0.5" stroke-linejoin="round"/>
<rect x="149.40" y="130.40" width="5.2" height="5.2" fill="none" stroke="#d98a16" stroke-width="1.3"/>
<rect x="161.10" y="130.40" width="5.2" height="5.2" fill="none" stroke="#d98a16" stroke-width="1.3"/>
<rect x="165.70" y="130.40" width="5.2" height="5.2" fill="none" stroke="#d98a16" stroke-width="1.3"/>
<polygon points="168.50,130.60 173.50,130.60 171.00,135.40" fill="#ef8c00" stroke="#d98a16" stroke-width="0.5" stroke-linejoin="round"/>
<rect x="172.70" y="130.40" width="5.2" height="5.2" fill="none" stroke="#d98a16" stroke-width="1.3"/>
<polygon points="178.50,130.60 181.00,135.40 176.00,135.40" fill="#ef8c00" stroke="#d98a16" stroke-width="0.5" stroke-linejoin="round"/>
<rect x="177.40" y="130.40" width="5.2" height="5.2" fill="none" stroke="#d98a16" stroke-width="1.3"/>
<polygon points="185.00,130.60 187.50,135.40 182.50,135.40" fill="#ef8c00" stroke="#d98a16" stroke-width="0.5" stroke-linejoin="round"/>
<rect x="211.90" y="130.20" width="5.70" height="5.60" fill="#ef8c00" stroke="#d98a16" stroke-width="0.7"/>
<polygon points="218.50,130.60 221.00,135.40 216.00,135.40" fill="#ef8c00" stroke="#d98a16" stroke-width="0.5" stroke-linejoin="round"/>
<polygon points="220.80,130.60 225.80,130.60 223.30,135.40" fill="#ef8c00" stroke="#d98a16" stroke-width="0.5" stroke-linejoin="round"/>
<rect x="234.80" y="130.40" width="5.2" height="5.2" fill="none" stroke="#d98a16" stroke-width="1.3"/>
<polygon points="246.80,130.00 251.80,130.00 249.30,134.80" fill="#ef8c00" stroke="#d98a16" stroke-width="0.5" stroke-linejoin="round"/><polygon points="249.30,131.20 251.80,136.00 246.80,136.00" fill="#ef8c00" stroke="#d98a16" stroke-width="0.5" stroke-linejoin="round"/>
<polygon points="275.50,130.00 280.50,130.00 278.00,134.80" fill="#ef8c00" stroke="#d98a16" stroke-width="0.5" stroke-linejoin="round"/><polygon points="278.00,131.20 280.50,136.00 275.50,136.00" fill="#ef8c00" stroke="#d98a16" stroke-width="0.5" stroke-linejoin="round"/>
<polygon points="319.20,130.60 321.70,135.40 316.70,135.40" fill="#ef8c00" stroke="#d98a16" stroke-width="0.5" stroke-linejoin="round"/>
<rect x="334.80" y="130.40" width="5.2" height="5.2" fill="none" stroke="#d98a16" stroke-width="1.3"/>
<polygon points="339.40,130.60 341.90,135.40 336.90,135.40" fill="#ef8c00" stroke="#d98a16" stroke-width="0.5" stroke-linejoin="round"/>
<polygon points="343.00,130.60 348.00,130.60 345.50,135.40" fill="#ef8c00" stroke="#d98a16" stroke-width="0.5" stroke-linejoin="round"/>
<rect x="354.70" y="130.40" width="5.2" height="5.2" fill="none" stroke="#d98a16" stroke-width="1.3"/>
<polygon points="373.20,130.60 378.20,130.60 375.70,135.40" fill="#ef8c00" stroke="#d98a16" stroke-width="0.5" stroke-linejoin="round"/>
<polygon points="425.00,130.60 427.50,135.40 422.50,135.40" fill="#ef8c00" stroke="#d98a16" stroke-width="0.5" stroke-linejoin="round"/>
<rect x="454.80" y="130.40" width="5.2" height="5.2" fill="none" stroke="#d98a16" stroke-width="1.3"/>
<rect x="462.30" y="130.40" width="5.2" height="5.2" fill="none" stroke="#d98a16" stroke-width="1.3"/>
<rect x="459.60" y="130.20" width="3.30" height="5.60" fill="#ef8c00" stroke="#d98a16" stroke-width="0.7"/>
<polygon points="491.0,135.6 493.3,130.4 499.6,130.4 497.3,135.6" fill="#ef8c00" stroke="#d98a16" stroke-width="0.6" stroke-linejoin="round"/>
<polygon points="123.70,154.80 126.20,159.60 121.20,159.60" fill="#2f3548" stroke="#2f3548" stroke-width="0.5" stroke-linejoin="round"/>
<polygon points="145.50,154.80 148.00,159.60 143.00,159.60" fill="#2f3548" stroke="#2f3548" stroke-width="0.5" stroke-linejoin="round"/>
<polygon points="458.80,154.80 461.30,159.60 456.30,159.60" fill="#2f3548" stroke="#2f3548" stroke-width="0.5" stroke-linejoin="round"/>
</g>
</g>
<rect x="0.5" y="0.5" width="519" height="526" fill="none" stroke="#555555" stroke-width="1"/>
</svg>
</body></html>
